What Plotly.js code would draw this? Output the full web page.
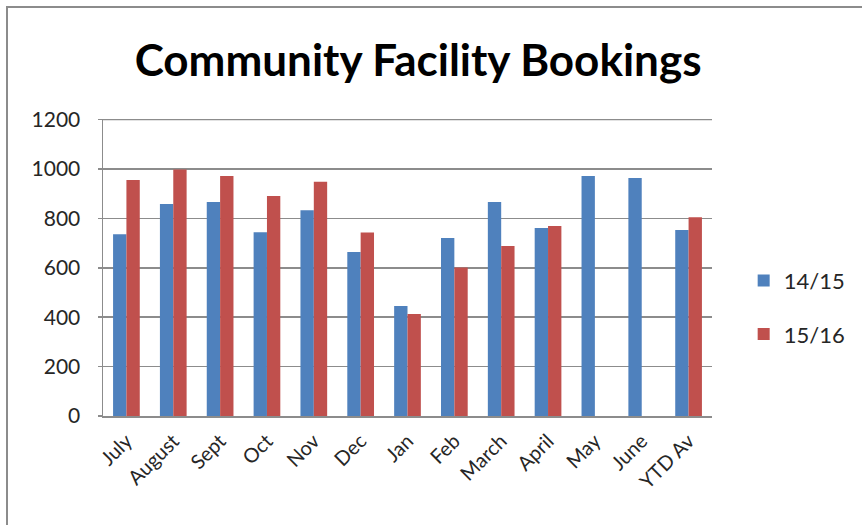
<!DOCTYPE html>
<html>
<head>
<meta charset="utf-8">
<script src="https://cdn.plot.ly/plotly-3.0.1.min.js"></script>
<style>
  html, body { margin: 0; padding: 0; background: #fff; }
  #wrap { position: relative; width: 862px; height: 525px; }
  #chart { width: 862px; height: 525px; }
  #frame { position: absolute; left: 6px; top: 6px; right: 0; bottom: 0;
           border-left: 2px solid #8c8c8c; border-top: 2px solid #8c8c8c; pointer-events: none; }
</style>
</head>
<body>
<div id="wrap"><div id="chart"></div><div id="frame"></div></div>
<script>
const categories = ["July", "August", "Sept", "Oct", "Nov", "Dec", "Jan", "Feb", "March", "April", "May", "June", "YTD Av"];
const series1415 = [736, 858, 866, 744, 833, 664, 445, 720, 866, 761, 971, 963, 753];
const series1516 = [955, 998, 971, 890, 948, 743, 413, 601, 688, 769, null, null, 804];
const yTicks = [0, 200, 400, 600, 800, 1000, 1200];

const fontFam = "Lato, 'Open Sans', 'Liberation Sans', sans-serif";
const yMax = yTicks[yTicks.length - 1];

const traces = [
  { type: "bar", name: "14/15", x: categories, y: series1415,
    marker: { color: "#4F81BD", line: { color: "#4F81BD", width: 0 } },
    legendgroup: "a", hoverinfo: "x+y" },
  { type: "bar", name: "15/16", x: categories, y: series1516,
    marker: { color: "#C0504D", line: { color: "#C0504D", width: 0 } },
    legendgroup: "b", hoverinfo: "x+y" }
];

const layout = {
  width: 862, height: 525,
  margin: { l: 103, r: 141, t: 119, b: 109 },
  paper_bgcolor: "#fff", plot_bgcolor: "#fff",
  barmode: "group", bargap: 0.43, bargroupgap: 0,
  title: { text: "<b>Community Facility Bookings</b>", x: 0.485, xanchor: "center", y: 0.885, yanchor: "middle",
           font: { family: fontFam, size: 44, color: "#000" } },
  font: { family: fontFam, color: "#262626" },
  xaxis: { type: "category", tickangle: -45, tickfont: { size: 20, color: "#262626" },
           showline: true, linecolor: "#8c8c8c", linewidth: 1.5, showgrid: false,
           ticks: "", ticklabelstandoff: 4, automargin: false, mirror: false },
  yaxis: { range: [0, yMax + 2], tickvals: yTicks, ticktext: yTicks.map(String),
           tickfont: { size: 21, color: "#262626" }, ticklabelstandoff: 13,
           showline: true, linecolor: "#8c8c8c", linewidth: 1.5,
           showgrid: true, gridcolor: "#8c8c8c", gridwidth: 1.5,
           ticks: "outside", ticklen: 4, tickcolor: "#8c8c8c", tickwidth: 1.5,
           zeroline: false, automargin: false, mirror: false },
  shapes: [
    { type: "line", xref: "paper", yref: "y", x0: 0, x1: 1, y0: yMax, y1: yMax,
      line: { color: "#8c8c8c", width: 1.5 }, layer: "below" }
  ],
  showlegend: true,
  legend: { x: 1.052, xanchor: "left", y: 0.365, yanchor: "middle",
            traceorder: "grouped", tracegroupgap: 22,
            font: { size: 22, color: "#262626" }, bgcolor: "rgba(0,0,0,0)" }
};

Plotly.newPlot("chart", traces, layout, { displayModeBar: false, staticPlot: true });
</script>
</body>
</html>
